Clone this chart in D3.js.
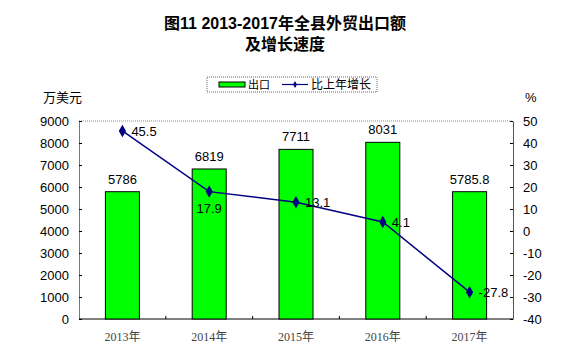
<!DOCTYPE html>
<html>
<head>
<meta charset="utf-8">
<script src="https://cdn.jsdelivr.net/npm/d3@7"></script>
<style>
body { margin: 0; background: #fff; }
text { font-family: Arial, "Liberation Sans", "Noto Sans CJK SC", sans-serif; }
</style>
</head>
<body>
<div id="chart"></div>
<script>
var years = ["2013年", "2014年", "2015年", "2016年", "2017年"];
var exports = [5786, 6819, 7711, 8031, 5785.8];
var exportLabels = ["5786", "6819", "7711", "8031", "5785.8"];
var growth = [45.5, 17.9, 13.1, 4.1, -27.8];
var leftTicks = [0, 1000, 2000, 3000, 4000, 5000, 6000, 7000, 8000, 9000];
var rightTicks = [-40, -30, -20, -10, 0, 10, 20, 30, 40, 50];

var width = 577, height = 362;
var margin = { top: 121, left: 79, right: 64, bottom: 43 };
var iw = width - margin.left - margin.right;
var ih = height - margin.top - margin.bottom;

var svg = d3.select("#chart").append("svg")
	.attr("width", width).attr("height", height);

// title
svg.append("text").attr("x", 285).attr("y", 29).attr("text-anchor", "middle")
	.attr("font-size", 16).attr("font-weight", "bold").text("图11  2013-2017年全县外贸出口额");
svg.append("text").attr("x", 285).attr("y", 50).attr("text-anchor", "middle")
	.attr("font-size", 16).attr("font-weight", "bold").text("及增长速度");

var g = svg.append("g").attr("transform", "translate(" + margin.left + "," + margin.top + ")");

var x = d3.scaleBand().domain(years).range([0, iw]);
var yL = d3.scaleLinear().domain([0, 9000]).range([ih, 0]);
var yR = d3.scaleLinear().domain([-40, 50]).range([ih, 0]);

function plain(d) { return String(d); }

// plot frame
g.append("line").attr("x1", 0).attr("x2", iw).attr("y1", 0).attr("y2", 0)
	.attr("stroke", "#888").attr("stroke-dasharray", "1,1");

// left axis
var axL = g.append("g").call(d3.axisLeft(yL).tickValues(leftTicks).tickFormat(plain)
	.tickSizeInner(-3).tickSizeOuter(0).tickPadding(10));
axL.select(".domain").attr("stroke", "#777");
axL.selectAll("text").attr("font-size", 13).attr("fill", "#000");

// right axis
var axR = g.append("g").attr("transform", "translate(" + iw + ",0)")
	.call(d3.axisRight(yR).tickValues(rightTicks).tickFormat(plain)
		.tickSizeInner(-3).tickSizeOuter(0).tickPadding(10));
axR.select(".domain").attr("stroke", "#555");
axR.selectAll("text").attr("font-size", 13).attr("fill", "#000");

// bottom axis
g.append("line").attr("x1", 0).attr("x2", iw).attr("y1", ih).attr("y2", ih).attr("stroke", "#000");
years.forEach(function(d, i) {
	if (i > 0) {
		g.append("line").attr("x1", x(d)).attr("x2", x(d)).attr("y1", ih).attr("y2", ih - 3).attr("stroke", "#000");
	}
	g.append("text").attr("x", x(d) + x.bandwidth() / 2).attr("y", ih + 22)
		.attr("text-anchor", "middle").attr("font-size", 12).attr("fill", "#444")
		.style("font-family", "'Liberation Serif', 'Noto Sans CJK SC', serif").text(d);
});

// bars
var bw = 34;
g.selectAll(".bar").data(exports).enter().append("rect")
	.attr("x", function(d, i) { return x(years[i]) + x.bandwidth() / 2 - bw / 2; })
	.attr("y", function(d) { return yL(d); })
	.attr("width", bw)
	.attr("height", function(d) { return ih - yL(d); })
	.attr("fill", "#00ff00").attr("stroke", "#000").attr("stroke-width", 1);

g.selectAll(".barlabel").data(exports).enter().append("text")
	.attr("x", function(d, i) { return x(years[i]) + x.bandwidth() / 2; })
	.attr("y", function(d) { return yL(d) - 8; })
	.attr("text-anchor", "middle").attr("font-size", 13)
	.text(function(d, i) { return exportLabels[i]; });

// growth line
var line = d3.line()
	.x(function(d, i) { return x(years[i]) + x.bandwidth() / 2; })
	.y(function(d) { return yR(d); });
g.append("path").datum(growth).attr("d", line)
	.attr("fill", "none").attr("stroke", "#000080").attr("stroke-width", 1.5);

g.selectAll(".mark").data(growth).enter().append("path")
	.attr("d", d3.symbol().type(d3.symbolDiamond).size(45))
	.attr("transform", function(d, i) {
		return "translate(" + (x(years[i]) + x.bandwidth() / 2) + "," + yR(d) + ")";
	})
	.attr("fill", "#000080");

g.selectAll(".glabel").data(growth).enter().append("text")
	.attr("x", function(d, i) { return x(years[i]) + x.bandwidth() / 2 + (i === 1 ? 0 : 9); })
	.attr("y", function(d, i) { return yR(d) + (i === 1 ? 21 : 5); })
	.attr("text-anchor", function(d, i) { return i === 1 ? "middle" : "start"; })
	.attr("font-size", 13)
	.text(function(d) { return d; });

// axis unit labels
svg.append("text").attr("x", 43).attr("y", 102).attr("font-size", 13).text("万美元");
svg.append("text").attr("x", 525).attr("y", 102).attr("font-size", 13).text("%");

// legend
var lg = svg.append("g").attr("transform", "translate(207,77)");
lg.append("rect").attr("width", 170).attr("height", 15)
	.attr("fill", "#fff").attr("stroke", "#666").attr("stroke-dasharray", "1,1");
lg.append("rect").attr("x", 12).attr("y", 5).attr("width", 26).attr("height", 5)
	.attr("fill", "#00ff00").attr("stroke", "#000");
lg.append("text").attr("x", 41).attr("y", 12).attr("font-size", 11).text("出口");
lg.append("line").attr("x1", 75).attr("x2", 101).attr("y1", 7.5).attr("y2", 7.5)
	.attr("stroke", "#000080").attr("stroke-width", 1.2);
lg.append("path").attr("d", d3.symbol().type(d3.symbolDiamond).size(14))
	.attr("transform", "translate(88,7.5)").attr("fill", "#000080");
lg.append("text").attr("x", 104).attr("y", 12).attr("font-size", 12).text("比上年增长");
</script>
</body>
</html>
